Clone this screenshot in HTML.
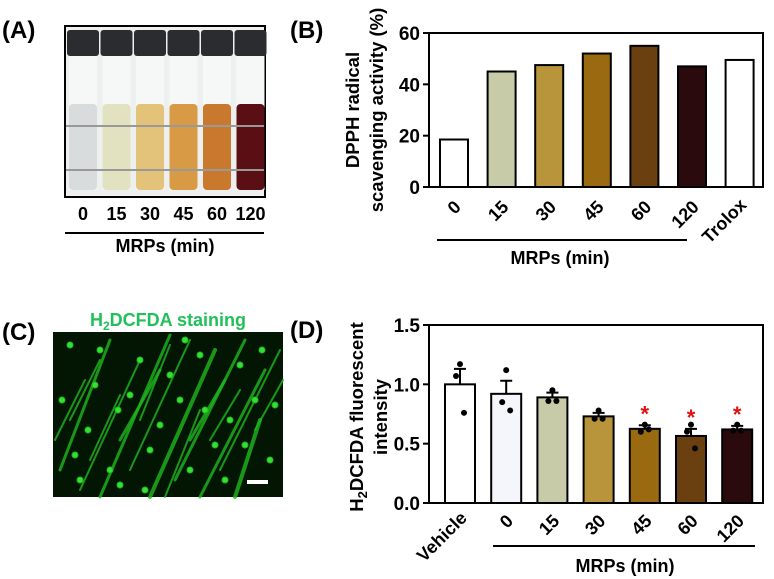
<!DOCTYPE html>
<html><head><meta charset="utf-8"><style>
html,body{margin:0;padding:0;background:#fff;}
svg{display:block;font-family:"Liberation Sans",Arial,sans-serif;font-weight:bold;}
</style></head><body>
<svg id="fig" width="774" height="579" viewBox="0 0 774 579" xmlns="http://www.w3.org/2000/svg">
<!-- Panel A -->
<text x="2" y="38" font-size="24">(A)</text>
<g>
<rect x="65" y="26" width="200" height="171" fill="#eef0f0" stroke="#000" stroke-width="2"/>
<g id="tubes"></g>
</g>
<g id="alabels" font-size="18" text-anchor="middle"></g>
<line x1="65" y1="233" x2="264" y2="233" stroke="#000" stroke-width="2"/>
<text x="165" y="252" font-size="18" text-anchor="middle">MRPs (min)</text>

<!-- Panel B -->
<text x="290" y="38" font-size="24">(B)</text>
<g id="chartB"></g>

<!-- Panel C -->
<text x="2" y="340" font-size="24">(C)</text>
<text x="168" y="326" font-size="18" fill="#22c05a" text-anchor="middle">H<tspan font-size="12" dy="4">2</tspan><tspan dy="-4">DCFDA staining</tspan></text>
<g>
<rect x="53" y="332" width="230" height="165" fill="#031503"/>
<g id="streaks" stroke="#1fb81f" stroke-linecap="round"></g>
<rect x="247" y="480" width="21" height="4" fill="#fff"/>
</g>

<!-- Panel D -->
<text x="290" y="338" font-size="24">(D)</text>
<g id="chartD"></g>
</svg>
<script>
const NS="http://www.w3.org/2000/svg";
function mk(tag,attrs,parent,text){const e=document.createElementNS(NS,tag);for(const k in attrs)e.setAttribute(k,attrs[k]);if(text!==undefined)e.textContent=text;parent.appendChild(e);return e;}

// ---- Panel A data ----
const tubeLabels=["0","15","30","45","60","120"];
const tubeColors=["#d8dcdc","#e3e2c0","#e3c27a","#d99a45","#c9792e","#5a0f14"];
const tubesG=document.getElementById('tubes');
const alab=document.getElementById('alabels');
tubeLabels.forEach((l,i)=>{
  const cx=83+i*33.5;
  const g=mk('g',{},tubesG);
  
  
  mk('rect',{x:cx-14,y:55,width:28,height:135,fill:'#f6f7f7'},g);
  mk('rect',{x:cx-14,y:104,width:28,height:86,rx:4,fill:tubeColors[i]},g);
  mk('rect',{x:cx-16,y:30,width:32,height:26,rx:3,fill:'#2a2c30'},g);
  const t=mk('text',{x:cx,y:220},alab,l);
  
  
});
[126,170].forEach(y=>mk('line',{x1:66,y1:y,x2:264,y2:y,stroke:'#999',"stroke-width":2},tubesG));

// ---- Panel C streaks (decorative) ----
const sg=document.getElementById('streaks');
const streaks=[[60,470,110,340,3],[80,490,140,360,2],[100,497,170,335,3],[130,470,190,340,2],[150,497,215,350,4],[175,480,245,340,3],[200,497,265,370,3],[220,470,280,350,2],[70,420,100,360,2],[120,440,160,370,3],[235,497,260,420,4],[190,440,225,380,3],[255,430,283,380,2],[55,440,85,380,2],[140,420,170,345,2],[165,497,200,410,2],[210,440,240,390,2],[90,460,120,395,2]];
streaks.forEach(s=>mk('line',{x1:s[0],y1:s[1],x2:s[2],y2:s[3],"stroke-width":s[4],opacity:0.8},sg));
const dots=[[70,345],[95,385],[118,410],[140,360],[160,425],[180,400],[200,355],[215,445],[240,365],[262,350],[75,455],[110,470],[145,490],[190,470],[230,420],[255,400],[88,430],[170,375],[205,410],[130,395],[62,400],[100,350],[150,450],[225,480],[270,460],[185,340],[245,445],[120,485],[80,480],[275,405]];
dots.forEach(d=>mk('circle',{cx:d[0],cy:d[1],r:3,fill:'#33e033'},sg));

// ---- Panel B data ----
const bCats=["0","15","30","45","60","120","Trolox"];
const bVals=[18.5,45,47.5,52,55,47,49.5];
const bColors=["#ffffff","#c8cba8","#b8953a","#9a6a10","#6b4010","#2a0a0c","#ffffff"];
const bTicks=[0,20,40,60];
(function(){
  const g=document.getElementById('chartB');
  const L=429,R=763,T=33,B=187,ymax=60;
  const y=v=>B-(v/ymax)*(B-T);
  const x=i=>454+i*47.6;
  bVals.forEach((v,i)=>{
    const r=mk('rect',{x:x(i)-14,y:y(v),width:28,height:B-y(v),fill:bColors[i],stroke:'#000',"stroke-width":2},g);
    
    
    const t=mk('text',{x:0,y:0,"font-size":18,"text-anchor":"end",transform:`translate(${x(i)+8},${bCats[i]==='Trolox'?206:208}) rotate(-45)`},g,bCats[i]);
    
    
  });
  const ax=mk('path',{d:`M${L},${T}V${B}H${R}V${T}Z`,fill:'none',stroke:'#000',"stroke-width":2},g);
  
  
  bTicks.forEach(v=>{
    mk('line',{x1:L-6,y1:y(v),x2:L,y2:y(v),stroke:'#000',"stroke-width":2},g);
    const t=mk('text',{x:L-9,y:y(v)+7,"font-size":19,"text-anchor":"end"},g,v);
    
    
  });
  const yt=mk('text',{transform:'translate(359,110) rotate(-90)',"font-size":18.5,"text-anchor":"middle"},g);
  
  
  mk('tspan',{x:0,y:0},yt,'DPPH radical');
  mk('tspan',{x:0,y:24},yt,'scavenging activity (%)');
  const ln=mk('line',{x1:437,y1:240,x2:687,y2:240,stroke:'#000',"stroke-width":2},g);
  
  
  const xt=mk('text',{x:560,y:264,"font-size":18,"text-anchor":"middle"},g,'MRPs (min)');
  
  
})();

// ---- Panel D data ----
const dCats=["Vehicle","0","15","30","45","60","120"];
const dMeans=[1.0,0.92,0.89,0.73,0.625,0.565,0.62];
const dErr=[0.13,0.11,0.04,0.03,0.03,0.06,0.03];
const dPts=[[1.17,1.07,0.76],[1.12,0.85,0.78],[0.95,0.86,0.86],[0.78,0.71,0.71],[0.66,0.60,0.62],[0.66,0.60,0.46],[0.66,0.61,0.61]];
const dSig=[false,false,false,false,true,true,true];
const dColors=["#ffffff","#f4f6fc","#c8cba8","#b8953a","#9a6a10","#6b4010","#2a0a0c"];
const dTicks=[0,0.5,1.0,1.5];
(function(){
  const g=document.getElementById('chartD');
  const L=429,R=763,T=325,B=503,ymax=1.5;
  const y=v=>B-(v/ymax)*(B-T);
  const x=i=>460+i*46.2;
  dMeans.forEach((v,i)=>{
    const r=mk('rect',{x:x(i)-15,y:y(v),width:30,height:B-y(v),fill:dColors[i],stroke:'#000',"stroke-width":2},g);
    
    
    const e=mk('path',{d:`M${x(i)},${y(v)}V${y(v+dErr[i])}M${x(i)-6},${y(v+dErr[i])}H${x(i)+6}`,stroke:'#000',"stroke-width":2,fill:'none'},g);
    
    
    dPts[i].forEach((p,j)=>{
      const c=mk('circle',{cx:x(i)+[0,-4,4][j],cy:y(p),r:3,fill:'#000'},g);
      
      
    });
    if(dSig[i]){
      const s=mk('text',{x:x(i),y:y(v+dErr[i])-4,fill:'#e01010',"font-size":22,"text-anchor":"middle"},g,'*');
      
      
    }
    const t=mk('text',{x:0,y:0,"font-size":18,"text-anchor":"end",transform:`translate(${x(i)+8},${dCats[i]==='Vehicle'?519:522}) rotate(-45)`},g,dCats[i]);
    
    
  });
  const ax=mk('path',{d:`M${L},${T}V${B}H${R}V${T}Z`,fill:'none',stroke:'#000',"stroke-width":2},g);
  
  
  dTicks.forEach(v=>{
    mk('line',{x1:L-6,y1:y(v),x2:L,y2:y(v),stroke:'#000',"stroke-width":2},g);
    const t=mk('text',{x:L-9,y:y(v)+7,"font-size":19,"text-anchor":"end"},g,v.toFixed(1));
    
    
  });
  const yt=mk('text',{transform:'translate(363,417) rotate(-90)',"font-size":18.5,"text-anchor":"middle"},g);
  
  
  mk('tspan',{x:0,y:0},yt,'H');
  mk('tspan',{"font-size":13,dy:4},yt,'2');
  mk('tspan',{dy:-4},yt,'DCFDA fluorescent');
  mk('tspan',{x:0,y:24},yt,'intensity');
  const ln=mk('line',{x1:493,y1:546,x2:755,y2:546,stroke:'#000',"stroke-width":2},g);
  
  
  const xt=mk('text',{x:625,y:572,"font-size":18,"text-anchor":"middle"},g,'MRPs (min)');
  
  
})();
</script>
</body></html>
